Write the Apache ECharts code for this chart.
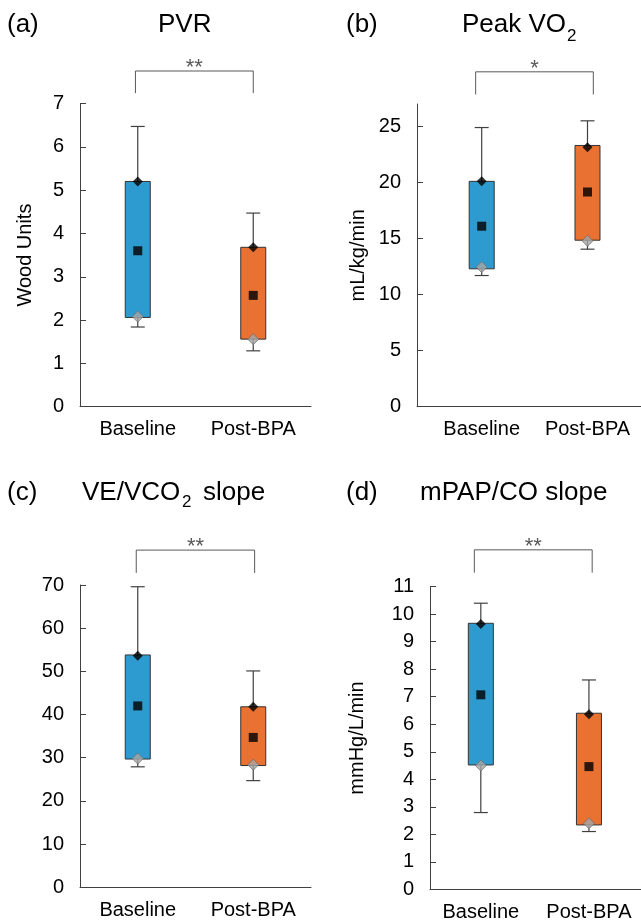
<!DOCTYPE html>
<html>
<head>
<meta charset="utf-8">
<script src="https://cdn.jsdelivr.net/npm/echarts@6/dist/echarts.min.js"></script>
<style>
  html, body { margin: 0; padding: 0; background: #fff; }
  #chart { width: 641px; height: 923px; }
</style>
</head>
<body>
<div id="chart"></div>
<script>
// categories
const categories = ['Baseline', 'Post-BPA']

// (a) PVR
const pvrWhiskLow = [1.84, 1.29]
const pvrBoxLow = [2.06, 1.56]
const pvrBoxHigh = [5.2, 3.68]
const pvrWhiskHigh = [6.47, 4.47]
const pvrMean = [3.6, 2.57]
const pvrUpper = [5.2, 3.68]
const pvrLower = [2.08, 1.56]
const pvrTicks = [0, 1, 2, 3, 4, 5, 6, 7]

// (b) Peak VO2
const vo2WhiskLow = [11.7, 14.05]
const vo2BoxLow = [12.3, 14.85]
const vo2BoxHigh = [20.1, 23.3]
const vo2WhiskHigh = [24.9, 25.5]
const vo2Mean = [16.1, 19.15]
const vo2Upper = [20.1, 23.15]
const vo2Lower = [12.45, 14.8]
const vo2Ticks = [0, 5, 10, 15, 20, 25]

// (c) VE/VCO2 slope
const veWhiskLow = [27.9, 24.7]
const veBoxLow = [29.7, 28.2]
const veBoxHigh = [53.8, 41.8]
const veWhiskHigh = [69.6, 50.1]
const veMean = [42.0, 34.7]
const veUpper = [53.6, 41.8]
const veLower = [29.8, 28.4]
const veTicks = [0, 10, 20, 30, 40, 50, 60, 70]

// (d) mPAP/CO slope
const mpWhiskLow = [2.79, 2.1]
const mpBoxLow = [4.52, 2.34]
const mpBoxHigh = [9.67, 6.4]
const mpWhiskHigh = [10.4, 7.61]
const mpMean = [7.07, 4.46]
const mpUpper = [9.64, 6.36]
const mpLower = [4.5, 2.4]
const mpTicks = [0, 1, 2, 3, 4, 5, 6, 7, 8, 9, 10, 11]

// significance brackets: [xLeft, xRight, yTop, yLeg]
const pvrBracket = [-0.02, 1.0, 7.75, 7.24]
const vo2Bracket = [-0.057, 1.055, 29.87, 27.85]
const veBracket = [-0.013, 1.012, 78.08, 72.8]
const mpBracket = [-0.06, 1.03, 12.34, 11.51]
const sigLabels = ['**', '*', '**', '**']

const FONT = '"Liberation Sans", Arial, sans-serif'
const boxColors = ['#2E9BD0', '#E97132']
const axisColor = '#404040'

const panels = [
  { grid: { left: 80, top: 103.5, width: 231, height: 303.2 }, xMin: -0.5, xMax: 1.5, yMax: 7, ticks: pvrTicks, name: 'Wood Units', nameGap: 45,
    wl: pvrWhiskLow, bl: pvrBoxLow, bh: pvrBoxHigh, wh: pvrWhiskHigh, mean: pvrMean, up: pvrUpper, lo: pvrLower, br: pvrBracket },
  { grid: { left: 417, top: 104, width: 224, height: 302.7 }, xMin: -0.6115, xMax: 1.5057, yMax: 27, ticks: vo2Ticks, name: 'mL/kg/min', nameGap: 49,
    wl: vo2WhiskLow, bl: vo2BoxLow, bh: vo2BoxHigh, wh: vo2WhiskHigh, mean: vo2Mean, up: vo2Upper, lo: vo2Lower, br: vo2Bracket },
  { grid: { left: 80, top: 585, width: 231, height: 302.3 }, xMin: -0.5, xMax: 1.5, yMax: 70, ticks: veTicks, name: '', nameGap: 45,
    wl: veWhiskLow, bl: veBoxLow, bh: veBoxHigh, wh: veWhiskHigh, mean: veMean, up: veUpper, lo: veLower, br: veBracket },
  { grid: { left: 430, top: 586.7, width: 213, height: 302.6 }, xMin: -0.47, xMax: 1.5, yMax: 11, ticks: mpTicks, name: 'mmHg/L/min', nameGap: 63,
    wl: mpWhiskLow, bl: mpBoxLow, bh: mpBoxHigh, wh: mpWhiskHigh, mean: mpMean, up: mpUpper, lo: mpLower, br: mpBracket }
]

function renderBox(params, api) {
  const x = api.value(0)
  const wl = api.coord([x, api.value(1)])
  const bl = api.coord([x, api.value(2)])
  const bh = api.coord([x, api.value(3)])
  const wh = api.coord([x, api.value(4)])
  const cx = wl[0]
  const lineStyle = { stroke: axisColor, lineWidth: 1.2 }
  return {
    type: 'group',
    children: [
      { type: 'line', shape: { x1: cx, y1: wh[1], x2: cx, y2: bh[1] }, style: lineStyle },
      { type: 'line', shape: { x1: cx - 7, y1: wh[1], x2: cx + 7, y2: wh[1] }, style: lineStyle },
      { type: 'line', shape: { x1: cx, y1: bl[1], x2: cx, y2: wl[1] }, style: lineStyle },
      { type: 'line', shape: { x1: cx - 7, y1: wl[1], x2: cx + 7, y2: wl[1] }, style: lineStyle },
      { type: 'rect', shape: { x: cx - 12.5, y: bh[1], width: 25, height: bl[1] - bh[1] },
        style: { fill: boxColors[params.dataIndex], stroke: '#333333', lineWidth: 1 } }
    ]
  }
}

function makeBracketRenderer(label) {
  return function (params, api) {
    const l = api.coord([api.value(0), api.value(3)])
    const t = api.coord([api.value(0), api.value(2)])
    const r = api.coord([api.value(1), api.value(2)])
    const rb = api.coord([api.value(1), api.value(3)])
    return {
      type: 'group',
      children: [
        { type: 'polyline', shape: { points: [[l[0], l[1]], [t[0], t[1]], [r[0], r[1]], [rb[0], rb[1]]] },
          style: { stroke: '#595959', lineWidth: 1, fill: null } },
        { type: 'text', x: (t[0] + r[0]) / 2, y: t[1] - 3,
          style: { text: label, font: '22px ' + FONT, fill: '#595959', align: 'center', verticalAlign: 'middle' } }
      ]
    }
  }
}

const grids = [], xAxes = [], yAxes = [], series = []
panels.forEach((p, i) => {
  grids.push(Object.assign({ outerBoundsMode: 'none', containLabel: false }, p.grid))
  xAxes.push({
    type: 'value', gridIndex: i, min: p.xMin, max: p.xMax,
    axisLine: { show: true, onZero: false, lineStyle: { color: axisColor } },
    axisTick: { show: false },
    splitLine: { show: false },
    axisLabel: { customValues: [0, 1], formatter: v => categories[Math.round(v)], fontSize: 20, color: '#000', margin: 13, fontFamily: FONT }
  })
  yAxes.push({
    type: 'value', gridIndex: i, min: 0, max: p.yMax,
    name: p.name, nameLocation: 'middle', nameGap: p.nameGap,
    nameTextStyle: { fontSize: 20, color: '#000', fontFamily: FONT },
    axisLine: { show: true, onZero: false, lineStyle: { color: axisColor } },
    axisTick: { show: true, inside: true, length: 6, customValues: p.ticks, lineStyle: { color: axisColor } },
    splitLine: { show: false },
    axisLabel: { customValues: p.ticks, fontSize: 20, color: '#000', margin: 16, fontFamily: FONT }
  })
  series.push({
    type: 'custom', xAxisIndex: i, yAxisIndex: i, renderItem: renderBox, z: 2,
    data: categories.map((c, k) => [k, p.wl[k], p.bl[k], p.bh[k], p.wh[k]])
  })
  series.push({
    type: 'custom', xAxisIndex: i, yAxisIndex: i, renderItem: makeBracketRenderer(sigLabels[i]), clip: false, z: 2,
    data: [p.br]
  })
  series.push({
    type: 'scatter', xAxisIndex: i, yAxisIndex: i, symbol: 'rect', symbolSize: 9, z: 5,
    itemStyle: { color: '#000' },
    data: categories.map((c, k) => [k, p.mean[k]])
  })
  series.push({
    type: 'scatter', xAxisIndex: i, yAxisIndex: i, symbol: 'diamond', symbolSize: 10, z: 5,
    itemStyle: { color: '#000' },
    data: categories.map((c, k) => [k, p.up[k]])
  })
  series.push({
    type: 'scatter', xAxisIndex: i, yAxisIndex: i, symbol: 'diamond', symbolSize: 11, z: 5,
    itemStyle: { color: '#A6A6A6', borderColor: '#6F6F6F', borderWidth: 1 },
    data: categories.map((c, k) => [k, p.lo[k]])
  })
})

function txt(x, y, text, size) {
  return { type: 'text', x: x, y: y, style: { text: text, font: size + 'px ' + FONT, fill: '#000', align: 'left', verticalAlign: 'middle' } }
}

const chart = echarts.init(document.getElementById('chart'), null, { renderer: 'canvas' })
chart.setOption({
  animation: false,
  backgroundColor: '#fff',
  grid: grids,
  xAxis: xAxes,
  yAxis: yAxes,
  series: series,
  graphic: [
    txt(7, 25, '(a)', 26),
    txt(158, 25, 'PVR', 26),
    txt(346, 25, '(b)', 26),
    txt(462, 25, 'Peak VO', 26),
    txt(567, 36, '2', 17),
    txt(7, 493, '(c)', 26),
    txt(82, 493, 'VE/VCO', 26),
    txt(182, 502, '2', 17),
    txt(203, 493, 'slope', 26),
    txt(346, 493, '(d)', 26),
    txt(420, 493, 'mPAP/CO slope', 26)
  ]
})
</script>
</body>
</html>
